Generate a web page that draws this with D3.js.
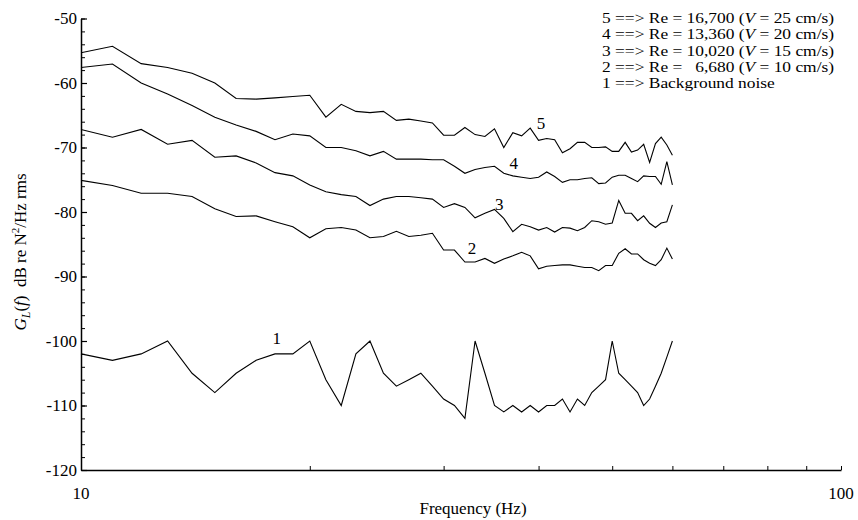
<!DOCTYPE html>
<html>
<head>
<meta charset="utf-8">
<script src="https://cdn.jsdelivr.net/npm/d3@7"></script>
<style>
  body { margin: 0; background: #fff; }
  text { font-family: "Liberation Serif", "Times New Roman", serif; fill: #000; }
</style>
</head>
<body>
<svg id="chart" width="858" height="520"></svg>
<script>
// frequency (Hz) of every sample
const freqs = [10,11,12,13,14,15,16,17,18,19,20,21,22,23,24,25,26,27,28,29,30,
  31,32,33,34,35,36,37,38,39,40,41,42,43,44,45,46,47,48,49,50,
  51,52,53,54,55,56,57,58,59,60];

// 1 ==> background noise
const curve1 = [-102,-103,-102,-100,-105,-108,-105,-103,-102,-102,-100,
  -106,-110,-102,-100,-105,-107,-106,-105,-107,-109,
  -110,-112,-100,-105,-110,-111,-110,-111,-110,-111,
  -110,-110,-109,-111,-109,-110,-108,-107,-106,-100,
  -105,-106,-107,-108,-110,-109,-107,-105,-102.5,-100];
// 2 ==> Re = 6,680
const curve2 = [-75.1,-75.9,-77.1,-77.1,-77.6,-79.5,-80.7,-80.6,-81.5,-82.3,-84.0,
  -82.6,-82.4,-82.8,-84.0,-83.8,-83.0,-83.8,-83.6,-83.3,-85.9,
  -85.9,-87.75,-87.75,-87.2,-87.95,-87.3,-86.8,-86.25,-86.8,-88.8,
  -88.4,-88.3,-88.2,-88.2,-88.4,-88.6,-88.6,-89.1,-88.3,-88.3,
  -86.4,-85.7,-86.5,-86.5,-87.4,-87.95,-88.3,-87.4,-85.6,-87.3];
// 3 ==> Re = 10,020
const curve3 = [-67.2,-68.4,-67.2,-69.5,-68.9,-71.5,-71.3,-72.4,-73.9,-74.4,-75.8,
  -76.85,-77.3,-77.6,-79.0,-78.0,-77.6,-77.6,-77.8,-78.0,-79.3,
  -78.7,-79.3,-80.9,-80.2,-79.6,-81.0,-83.05,-81.9,-82.3,-82.8,
  -82.4,-83.1,-82.4,-82.5,-82.9,-82.4,-81.35,-81.5,-81.9,-81.7,
  -78.2,-80.2,-80.2,-81.35,-80.6,-81.75,-82.4,-81.7,-81.5,-78.9];
// 4 ==> Re = 13,360
const curve4 = [-57.6,-57.05,-60.0,-61.7,-63.5,-65.3,-66.5,-67.5,-68.8,-67.9,-68.2,
  -70.0,-70.0,-70.5,-71.3,-70.6,-71.8,-71.8,-71.8,-71.9,-71.9,
  -72.9,-74.0,-73.4,-73.1,-72.9,-74.0,-74.4,-74.6,-74.8,-74.6,
  -73.8,-74.5,-75.4,-75.0,-75.0,-74.8,-74.7,-75.6,-75.5,-74.6,
  -74.3,-74.3,-74.8,-75.3,-74.4,-74.5,-74.5,-75.7,-72.2,-75.8];
// 5 ==> Re = 16,700
const curve5 = [-55.3,-54.3,-57.0,-57.6,-58.5,-60.0,-62.4,-62.5,-62.3,-62.1,-61.9,
  -65.3,-63.3,-64.4,-64.6,-64.4,-65.8,-65.6,-65.9,-66.2,-68.1,
  -68.1,-66.9,-68.0,-68.3,-67.1,-70.0,-67.7,-68.2,-67.0,-68.9,
  -68.6,-68.8,-70.8,-70.2,-69.2,-69.2,-70.0,-70.0,-69.9,-70.6,
  -70.6,-69.2,-70.7,-70.4,-69.5,-72.3,-69.4,-68.4,-69.6,-71.2];

const curveIds = ['1', '2', '3', '4', '5'];
// where the curve number is written: [frequency, dB]
const curveLabelAt = [[18.1, -99.5], [32.7, -85.6], [35.5, -78.8], [37.1, -72.4], [40.3, -66.2]];

const yTicks = [-50, -60, -70, -80, -90, -100, -110, -120];
const xTicks = [10, 20, 30, 40, 50, 60, 70, 80, 90, 100];
const xTickLabels = [10, 100];

const legendIds = ['5', '4', '3', '2'];
const legendRe = ['16,700', '13,360', '10,020', '6,680'];
const legendV = ['25', '20', '15', '10'];

const svg = d3.select('#chart');
const fontSize = 17;

const x = d3.scaleLog().domain([10, 100]).range([81, 841]);
const y = d3.scaleLinear().domain([-120, -50]).range([470, 18.5]);

// minor y ticks every 2 dB
svg.append('g')
  .attr('transform', 'translate(81,0)')
  .call(d3.axisLeft(y).ticks(35).tickSize(-4).tickFormat(''))
  .call(g => g.select('.domain').remove())
  .call(g => g.selectAll('line').attr('stroke-width', 1));

svg.append('g')
  .attr('transform', 'translate(81,0)')
  .call(d3.axisLeft(y).tickValues(yTicks).tickSize(-6).tickSizeOuter(0).tickPadding(4).tickFormat(d => String(d)))
  .call(g => g.select('.domain').attr('stroke-width', 1.5))
  .call(g => g.selectAll('line').attr('stroke-width', 1.2))
  .call(g => g.selectAll('text').attr('font-size', fontSize).attr('font-family', null));

svg.append('g')
  .attr('transform', 'translate(0,470)')
  .call(d3.axisBottom(x).tickValues(xTicks).tickSize(-4).tickSizeOuter(0).tickFormat(''))
  .call(g => g.select('.domain').attr('stroke-width', 1.5))
  .call(g => g.selectAll('line').attr('stroke-width', 1));

svg.append('g').selectAll('text')
  .data(xTickLabels)
  .join('text')
  .attr('x', d => x(d))
  .attr('y', 499)
  .attr('text-anchor', 'middle')
  .attr('font-size', fontSize)
  .text(d => d);

// curves
const line = d3.line().x(d => x(d[0])).y(d => y(d[1]));
const series = [curve1, curve2, curve3, curve4, curve5];
svg.append('g').selectAll('path')
  .data(series)
  .join('path')
  .attr('d', s => line(freqs.map((f, i) => [f, s[i]])))
  .attr('fill', 'none')
  .attr('stroke', '#000')
  .attr('stroke-width', 1.1)
  .attr('stroke-linejoin', 'miter');

svg.append('g').selectAll('text')
  .data(curveIds)
  .join('text')
  .attr('x', (d, i) => x(curveLabelAt[i][0]))
  .attr('y', (d, i) => y(curveLabelAt[i][1]))
  .attr('dy', '0.35em')
  .attr('text-anchor', 'middle')
  .attr('font-size', fontSize)
  .text(d => d);

// legend: smaller font stretched sideways so the lines do not collide
const legendStep = 16.3;
const legend = svg.append('g')
  .attr('transform', 'translate(602,0) scale(1.2,1)')
  .attr('font-size', 14.5);
let rightEdge = 0;
legendIds.forEach((id, i) => {
  const ly = 23 + i * legendStep;
  const t = legend.append('text').attr('x', 0).attr('y', ly);
  if (id === '2') {
    t.text('2 ==> Re =');
    const tail = legend.append('text').attr('y', ly).attr('text-anchor', 'end').attr('x', rightEdge);
    tail.append('tspan').text(legendRe[i] + ' (');
    tail.append('tspan').attr('font-style', 'italic').text('V');
    tail.append('tspan').text(' = ' + legendV[i] + ' cm/s)');
  } else {
    t.append('tspan').text(id + ' ==> Re = ' + legendRe[i] + ' (');
    t.append('tspan').attr('font-style', 'italic').text('V');
    t.append('tspan').text(' = ' + legendV[i] + ' cm/s)');
    rightEdge = Math.max(rightEdge, t.node().getComputedTextLength());
  }
});
legend.append('text').attr('x', 0).attr('y', 23 + 4 * legendStep).text('1 ==> Background noise');

// axis titles
svg.append('text')
  .attr('x', 473)
  .attr('y', 514)
  .attr('text-anchor', 'middle')
  .attr('font-size', fontSize)
  .text('Frequency (Hz)');

const yTitle = svg.append('text')
  .attr('transform', 'translate(26,252) rotate(-90)')
  .attr('text-anchor', 'middle')
  .attr('font-size', fontSize);
yTitle.append('tspan').attr('font-style', 'italic').text('G');
yTitle.append('tspan').attr('font-style', 'italic').attr('font-size', 12).attr('dy', 4).text('L');
yTitle.append('tspan').attr('dy', -4).text('(');
yTitle.append('tspan').attr('font-style', 'italic').text('f');
yTitle.append('tspan').text(')\u00a0\u00a0dB re N');
yTitle.append('tspan').attr('font-size', 11).attr('dy', -7).text('2');
yTitle.append('tspan').attr('dy', 7).text('/Hz rms');
</script>
</body>
</html>
